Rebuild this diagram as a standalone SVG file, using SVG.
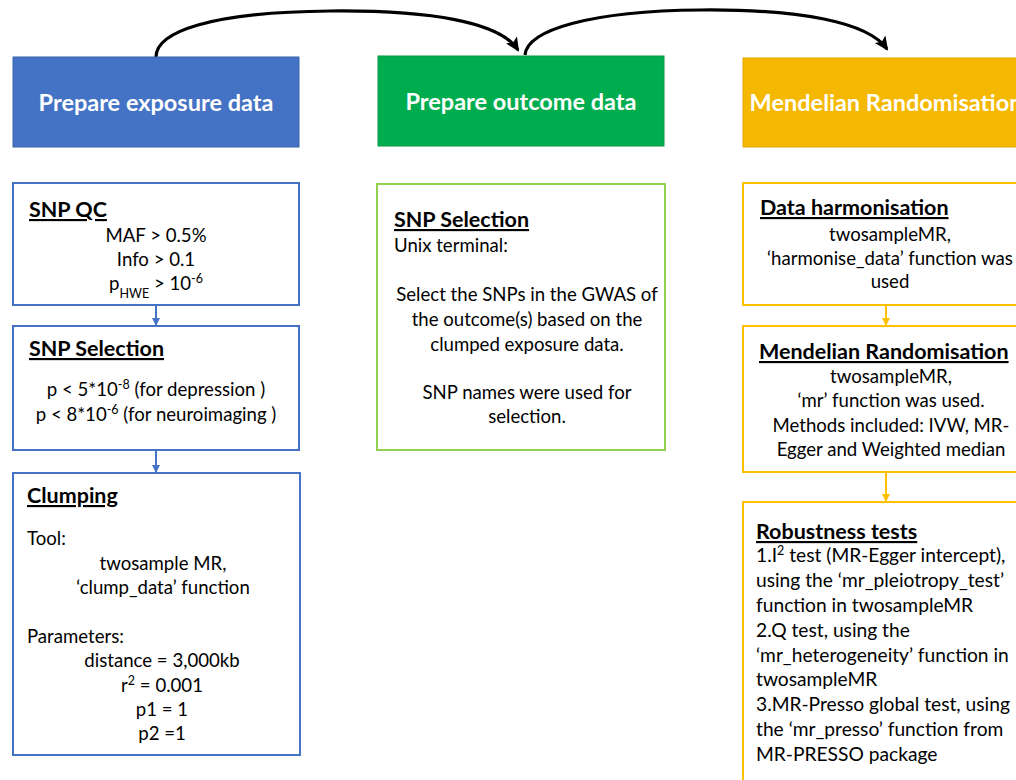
<svg xmlns="http://www.w3.org/2000/svg" width="1016" height="780" viewBox="0 0 1016 780">
  <style>
    text { font-family: Lato, "Open Sans", "Liberation Sans", sans-serif; fill: #000; }
    .title { font-size: 23.5px; font-weight: bold; fill: #fff; text-anchor: middle; }
    .head { font-size: 21.5px; font-weight: bold; text-decoration: underline; }
    .body { font-size: 18.6px; }
    .wide { font-size: 19.2px; }
    .mid { text-anchor: middle; }
    .sup { font-size: 12.5px; }
    .blue { fill: none; stroke: #4472C4; stroke-width: 2; }
    .green { fill: none; stroke: #92D050; stroke-width: 2; }
    .amber { fill: none; stroke: #FFC000; stroke-width: 2; }
    .flow { fill: none; stroke: #000; stroke-width: 3.2; }
  </style>
  <defs>
    <marker id="bigHead" markerUnits="userSpaceOnUse" markerWidth="16" markerHeight="14" refX="12" refY="6.5" orient="auto">
      <path d="M0,0 L14,6.5 L0,13 L3,6.5 Z" fill="#000"/>
    </marker>
    <marker id="blueHead" markerUnits="userSpaceOnUse" markerWidth="10" markerHeight="10" refX="7" refY="4" orient="auto">
      <path d="M0,0 L8,4 L0,8 Z" fill="#4472C4"/>
    </marker>
    <marker id="amberHead" markerUnits="userSpaceOnUse" markerWidth="10" markerHeight="10" refX="7" refY="4" orient="auto">
      <path d="M0,0 L8,4 L0,8 Z" fill="#FFC000"/>
    </marker>
  </defs>

  <rect width="1016" height="780" fill="#fff"/>

  <!-- connectors -->
  <g id="connectors">
    <path class="flow" d="M156,57 C156,32 210,12 330,11 C430,10 500,22 518,50" marker-end="url(#bigHead)"/>
    <path class="flow" d="M525,55 C527,30 590,11 700,10 C800,9 868,22 887,49" marker-end="url(#bigHead)"/>
    <line x1="156" y1="305" x2="156" y2="325" stroke="#4472C4" stroke-width="2" marker-end="url(#blueHead)"/>
    <line x1="156" y1="450" x2="156" y2="472" stroke="#4472C4" stroke-width="2" marker-end="url(#blueHead)"/>
    <line x1="886" y1="305" x2="886" y2="325" stroke="#FFC000" stroke-width="2" marker-end="url(#amberHead)"/>
    <line x1="886" y1="472" x2="886" y2="501" stroke="#FFC000" stroke-width="2" marker-end="url(#amberHead)"/>
  </g>

  <!-- stage headers -->
  <g id="exposure-header">
    <rect x="13" y="57" width="286" height="90" fill="#4472C4" stroke="#3B64AE" stroke-width="1"/>
    <text class="title" x="156" y="111">Prepare exposure data</text>
  </g>
  <g id="outcome-header">
    <rect x="378" y="56" width="286" height="90" fill="#00AD4E" stroke="#009A45" stroke-width="1"/>
    <text class="title" x="521" y="110">Prepare outcome data</text>
  </g>
  <g id="mr-header">
    <rect x="743" y="58" width="286" height="89" fill="#F5B800" stroke="#E0A800" stroke-width="1"/>
    <text class="title" x="886" y="111">Mendelian Randomisation</text>
  </g>

  <!-- exposure column -->
  <g id="snp-qc">
    <rect class="blue" x="13" y="183" width="286" height="122"/>
    <text class="head" x="29" y="217">SNP QC</text>
    <text class="body mid" x="156" y="242">MAF &gt; 0.5%</text>
    <text class="body mid" x="156" y="266">Info &gt; 0.1</text>
    <text class="body mid" x="156" y="290">p<tspan class="sup" baseline-shift="sub">HWE</tspan> &gt; 10<tspan class="sup" baseline-shift="super">-6</tspan></text>
  </g>
  <g id="snp-selection-exposure">
    <rect class="blue" x="13" y="326" width="286" height="124"/>
    <text class="head" x="29" y="356">SNP Selection</text>
    <text class="body mid" x="156" y="396">p &lt; 5*10<tspan class="sup" baseline-shift="super">-8</tspan> (for depression )</text>
    <text class="body mid" x="156" y="421">p &lt; 8*10<tspan class="sup" baseline-shift="super">-6</tspan> (for neuroimaging )</text>
  </g>
  <g id="clumping">
    <rect class="blue" x="13" y="473" width="287" height="282"/>
    <text class="head" x="27" y="503">Clumping</text>
    <text class="body" x="27" y="545">Tool:</text>
    <text class="body mid" x="163" y="570">twosample MR,</text>
    <text class="body mid" x="163" y="594">‘clump_data’ function</text>
    <text class="body" x="27" y="643">Parameters:</text>
    <text class="body mid" x="162" y="667">distance = 3,000kb</text>
    <text class="body mid" x="162" y="692">r<tspan class="sup" baseline-shift="super">2</tspan> = 0.001</text>
    <text class="body mid" x="162" y="716">p1 = 1</text>
    <text class="body mid" x="162" y="740">p2 =1</text>
  </g>

  <!-- outcome column -->
  <g id="snp-selection-outcome">
    <rect class="green" x="377" y="184" width="288" height="266"/>
    <text class="head" x="394" y="227">SNP Selection</text>
    <text class="body" x="394" y="252">Unix terminal:</text>
    <text class="body mid" x="527" y="301">Select the SNPs in the GWAS of</text>
    <text class="body mid" x="527" y="326">the outcome(s) based on the</text>
    <text class="body mid" x="527" y="351">clumped exposure data.</text>
    <text class="body mid" x="527" y="399">SNP names were used for</text>
    <text class="body mid" x="527" y="423">selection.</text>
  </g>

  <!-- MR column -->
  <g id="data-harmonisation">
    <rect class="amber" x="743" y="183" width="286" height="122"/>
    <text class="head" x="760" y="215">Data harmonisation</text>
    <text class="body mid" x="890" y="241">twosampleMR,</text>
    <text class="body mid" x="890" y="265">‘harmonise_data’ function was</text>
    <text class="body mid" x="890" y="288">used</text>
  </g>
  <g id="mendelian-randomisation">
    <rect class="amber" x="743" y="326" width="286" height="146"/>
    <text class="head" x="759" y="359">Mendelian Randomisation</text>
    <text class="body mid" x="891" y="383">twosampleMR,</text>
    <text class="body mid" x="891" y="407">‘mr’ function was used.</text>
    <text class="body mid" x="891" y="432">Methods included: IVW, MR-</text>
    <text class="body mid" x="891" y="456">Egger and Weighted median</text>
  </g>
  <g id="robustness-tests">
    <rect class="amber" x="743" y="502" width="286" height="300"/>
    <text class="head" x="756" y="539">Robustness tests</text>
    <text class="wide" x="756" y="562">1.I<tspan class="sup" baseline-shift="super">2</tspan> test (MR-Egger intercept),</text>
    <text class="wide" x="756" y="587">using the ‘mr_pleiotropy_test’</text>
    <text class="wide" x="756" y="612">function in twosampleMR</text>
    <text class="wide" x="756" y="637">2.Q test, using the</text>
    <text class="wide" x="756" y="662">‘mr_heterogeneity’ function in</text>
    <text class="wide" x="756" y="686">twosampleMR</text>
    <text class="wide" x="756" y="711">3.MR-Presso global test, using</text>
    <text class="wide" x="756" y="736">the ‘mr_presso’ function from</text>
    <text class="wide" x="756" y="761">MR-PRESSO package</text>
  </g>
</svg>
